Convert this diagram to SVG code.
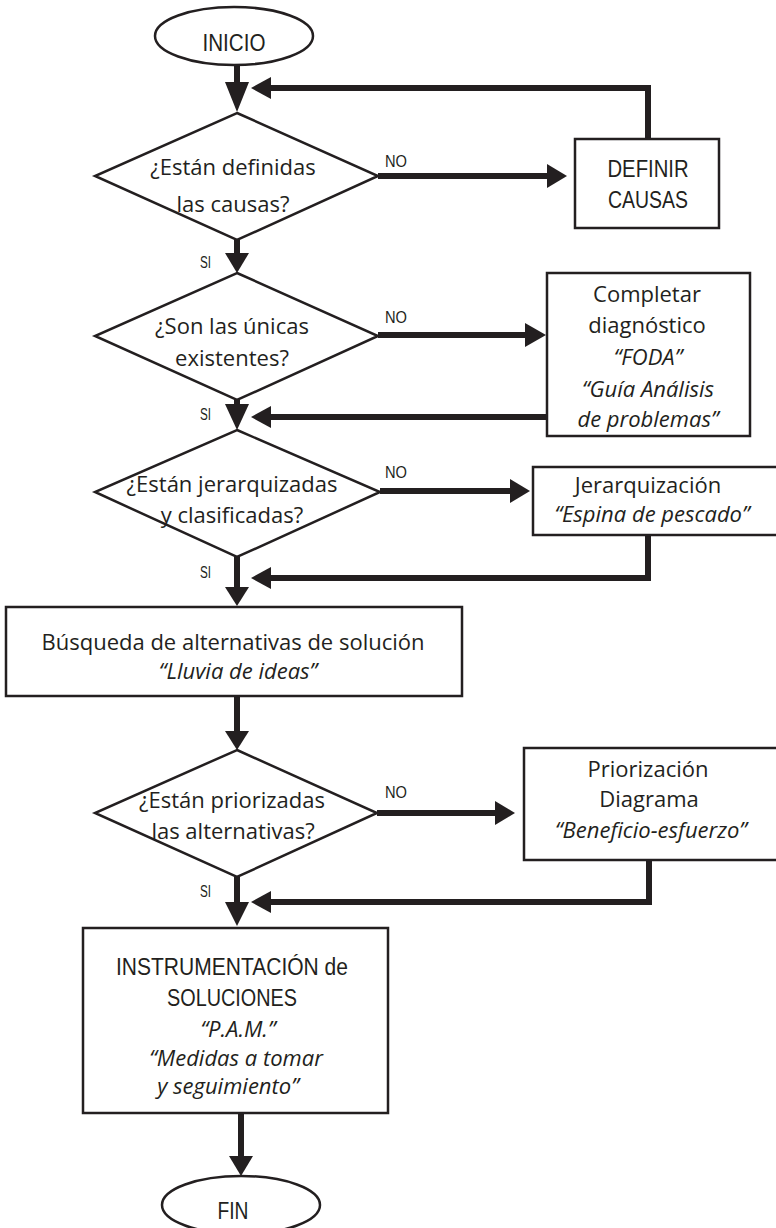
<svg xmlns="http://www.w3.org/2000/svg" width="776" height="1228" viewBox="0 0 776 1228">
<style>
.shape{fill:#fff;stroke:#231f20;stroke-width:2.5}
.conn{fill:none;stroke:#231f20;stroke-width:6}
.head{fill:#231f20;stroke:none}
.h{font-family:"Open Sans","Noto Sans",sans-serif;font-size:22px;fill:#231f20;text-anchor:middle}
.i{font-style:italic}
.c{font-family:"Liberation Sans",Arial,sans-serif;font-size:23px;fill:#231f20;text-anchor:middle}
.lbl{font-family:"Liberation Sans",Arial,sans-serif;font-size:16px;fill:#231f20}
</style>
<rect width="776" height="1228" fill="#fff"/>
<g id="connectors">
<path class="conn" d="M237 65V84"/><polygon class="head" points="225,82 249,82 237,112"/>
<path class="conn" d="M648 139V88H268"/><polygon class="head" points="271,77 271,99 251,88"/>
<path class="conn" d="M378 176H549"/><polygon class="head" points="547,164 547,188 567,176"/>
<path class="conn" d="M237 240V255"/><polygon class="head" points="225,253 249,253 237,273"/>
<path class="conn" d="M378 335H527"/><polygon class="head" points="525,323 525,347 546,335"/>
<path class="conn" d="M547 417H268"/><polygon class="head" points="271,406 271,428 251,417"/>
<path class="conn" d="M237 400V407"/><polygon class="head" points="225,404 249,404 237,430"/>
<path class="conn" d="M380 491H512"/><polygon class="head" points="510,479 510,503 530,491"/>
<path class="conn" d="M648 535V578H268"/><polygon class="head" points="271,567 271,589 251,578"/>
<path class="conn" d="M237 557V589"/><polygon class="head" points="225,587 249,587 237,606"/>
<path class="conn" d="M237 696V733"/><polygon class="head" points="225,731 249,731 237,750"/>
<path class="conn" d="M377 813H497"/><polygon class="head" points="495,801 495,825 515,813"/>
<path class="conn" d="M649 860V902H268"/><polygon class="head" points="271,891 271,913 251,902"/>
<path class="conn" d="M237 877V904"/><polygon class="head" points="225,902 249,902 237,926"/>
<path class="conn" d="M241 1113V1158"/><polygon class="head" points="229,1156 253,1156 241,1176"/>
</g>
<g id="inicio">
<ellipse class="shape" cx="234" cy="36" rx="79" ry="29"/>
<text class="c" x="234" y="51" textLength="63" lengthAdjust="spacingAndGlyphs">INICIO</text>
</g>
<g id="d1">
<polygon class="shape" points="237,113 378,176 237,240 95,176"/>
<text class="h" x="233" y="175">¿Están definidas</text>
<text class="h" x="233" y="212">las causas?</text>
</g>
<g id="definir">
<rect class="shape" x="575" y="139" width="144" height="89"/>
<text class="c" x="648" y="177" textLength="81" lengthAdjust="spacingAndGlyphs">DEFINIR</text>
<text class="c" x="648" y="208" textLength="80" lengthAdjust="spacingAndGlyphs">CAUSAS</text>
</g>
<g id="d2">
<polygon class="shape" points="237,273 378,336 237,400 95,336"/>
<text class="h" x="232" y="334">¿Son las únicas</text>
<text class="h" x="232" y="366">existentes?</text>
</g>
<g id="completar">
<rect class="shape" x="547" y="273" width="203" height="163"/>
<text class="h" x="647" y="302">Completar</text>
<text class="h" x="647" y="333">diagnóstico</text>
<text class="h i" x="648" y="365">“FODA”</text>
<text class="h i" x="648" y="397">“Guía Análisis</text>
<text class="h i" x="648" y="427">de problemas”</text>
</g>
<g id="d3">
<polygon class="shape" points="237,430 380,492 237,557 95,492"/>
<text class="h" x="232" y="492">¿Están jerarquizadas</text>
<text class="h" x="232" y="523">y clasificadas?</text>
</g>
<g id="jerarquizacion">
<rect class="shape" x="533" y="467" width="260" height="68"/>
<text class="h" x="648" y="493">Jerarquización</text>
<text class="h i" x="652" y="522">“Espina de pescado”</text>
</g>
<g id="busqueda">
<rect class="shape" x="6" y="607" width="456" height="89"/>
<text class="h" x="233" y="650">Búsqueda de alternativas de solución</text>
<text class="h i" x="238" y="679">“Lluvia de ideas”</text>
</g>
<g id="d4">
<polygon class="shape" points="237,750 377,813 237,877 95,813"/>
<text class="h" x="232" y="808">¿Están priorizadas</text>
<text class="h" x="233" y="839">las alternativas?</text>
</g>
<g id="priorizacion">
<rect class="shape" x="524" y="748" width="270" height="112"/>
<text class="h" x="648" y="777">Priorización</text>
<text class="h" x="649" y="807">Diagrama</text>
<text class="h i" x="651" y="838">“Beneficio-esfuerzo”</text>
</g>
<g id="instrumentacion">
<rect class="shape" x="83" y="928" width="305" height="185"/>
<text class="c" x="232" y="975" textLength="232" lengthAdjust="spacingAndGlyphs">INSTRUMENTACIÓN de</text>
<text class="c" x="232" y="1006" textLength="130" lengthAdjust="spacingAndGlyphs">SOLUCIONES</text>
<text class="h i" x="238" y="1037">“P.A.M.”</text>
<text class="h i" x="236" y="1066">“Medidas a tomar</text>
<text class="h i" x="228" y="1094">y seguimiento”</text>
</g>
<g id="fin">
<ellipse class="shape" cx="241" cy="1205" rx="79" ry="29"/>
<text class="c" x="233" y="1219" textLength="31" lengthAdjust="spacingAndGlyphs">FIN</text>
</g>
<g id="labels">
<text class="lbl" x="385" y="167" textLength="22" lengthAdjust="spacingAndGlyphs">NO</text>
<text class="lbl" x="385" y="323" textLength="22" lengthAdjust="spacingAndGlyphs">NO</text>
<text class="lbl" x="385" y="478" textLength="22" lengthAdjust="spacingAndGlyphs">NO</text>
<text class="lbl" x="385" y="798" textLength="22" lengthAdjust="spacingAndGlyphs">NO</text>
<text class="lbl" x="200" y="268" textLength="11" lengthAdjust="spacingAndGlyphs">SI</text>
<text class="lbl" x="200" y="420" textLength="11" lengthAdjust="spacingAndGlyphs">SI</text>
<text class="lbl" x="200" y="578" textLength="11" lengthAdjust="spacingAndGlyphs">SI</text>
<text class="lbl" x="200" y="897" textLength="11" lengthAdjust="spacingAndGlyphs">SI</text>
</g>
</svg>
